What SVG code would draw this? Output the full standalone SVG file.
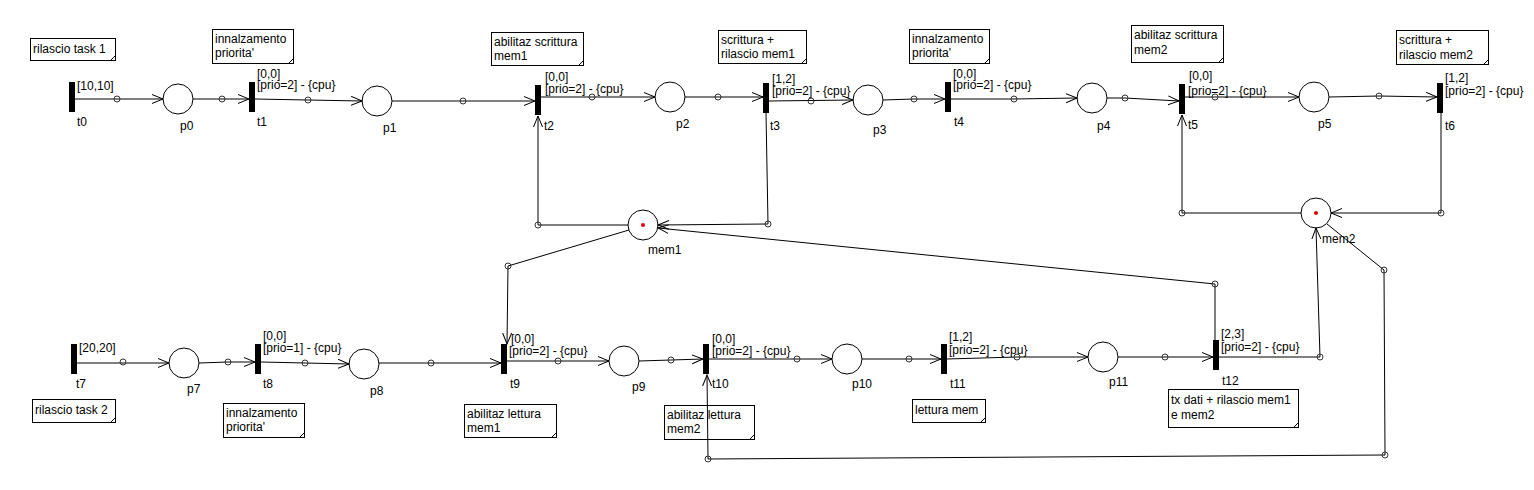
<svg xmlns="http://www.w3.org/2000/svg" width="1534" height="490" viewBox="0 0 1534 490">
<style>
text{font-family:"Liberation Sans",Arial,sans-serif;font-size:12px;fill:#000}
.pl{fill:#fff;stroke:#000;stroke-width:1}
.tr{fill:#000}
.tok{fill:#e00000}
.note{fill:#fff;stroke:#000;stroke-width:1}
.fold{fill:none;stroke:#000;stroke-width:1}
.arc{fill:none;stroke:#000;stroke-width:1;marker-end:url(#ah)}
.bp{fill:none;stroke:#333;stroke-width:1}
</style>
<defs>
<marker id="ah" markerUnits="userSpaceOnUse" markerWidth="14" markerHeight="12" refX="11" refY="5" orient="auto">
<path d="M0,0.5 L11,5 L0,9.5" fill="none" stroke="#000" stroke-width="1"/>
</marker>
</defs>
<rect width="1534" height="490" fill="#fff"/>

<!-- notes -->
<g id="note1"><rect class="note" x="30.5" y="38.5" width="85" height="22"/><path class="fold" d="M110.5,60.5 L115.5,55.5"/><text x="33" y="53">rilascio task 1</text></g>
<g id="note2"><rect class="note" x="212.5" y="29.5" width="81" height="34"/><path class="fold" d="M288.5,63.5 L293.5,58.5"/><text x="215" y="43">innalzamento</text><text x="215" y="57">priorita'</text></g>
<g id="note3"><rect class="note" x="491.5" y="32.5" width="92" height="33"/><path class="fold" d="M578.5,65.5 L583.5,60.5"/><text x="494" y="46">abilitaz scrittura</text><text x="494" y="60">mem1</text></g>
<g id="note4"><rect class="note" x="718.5" y="30.5" width="88" height="33"/><path class="fold" d="M801.5,63.5 L806.5,58.5"/><text x="721" y="44">scrittura +</text><text x="721" y="58">rilascio mem1</text></g>
<g id="note5"><rect class="note" x="909.5" y="29.5" width="80" height="34"/><path class="fold" d="M984.5,63.5 L989.5,58.5"/><text x="912" y="43">innalzamento</text><text x="912" y="57">priorita'</text></g>
<g id="note6"><rect class="note" x="1131.5" y="25.5" width="92" height="37"/><path class="fold" d="M1218.5,62.5 L1223.5,57.5"/><text x="1134" y="39">abilitaz scrittura</text><text x="1134" y="54">mem2</text></g>
<g id="note7"><rect class="note" x="1396.5" y="30.5" width="92" height="34"/><path class="fold" d="M1483.5,64.5 L1488.5,59.5"/><text x="1399" y="44">scrittura +</text><text x="1399" y="59">rilascio mem2</text></g>
<g id="note8"><rect class="note" x="32.5" y="399.5" width="83" height="23"/><path class="fold" d="M110.5,422.5 L115.5,417.5"/><text x="35" y="414">rilascio task 2</text></g>
<g id="note9"><rect class="note" x="223.5" y="403.5" width="81" height="34"/><path class="fold" d="M299.5,437.5 L304.5,432.5"/><text x="226" y="417">innalzamento</text><text x="226" y="431">priorita'</text></g>
<g id="note10"><rect class="note" x="464.5" y="404.5" width="92" height="33"/><path class="fold" d="M551.5,437.5 L556.5,432.5"/><text x="467" y="418">abilitaz lettura</text><text x="467" y="432">mem1</text></g>
<g id="note11"><rect class="note" x="664.5" y="405.5" width="90" height="34"/><path class="fold" d="M749.5,439.5 L754.5,434.5"/><text x="667" y="419">abilitaz lettura</text><text x="667" y="433">mem2</text></g>
<g id="note12"><rect class="note" x="912.5" y="399.5" width="73" height="23"/><path class="fold" d="M980.5,422.5 L985.5,417.5"/><text x="915" y="414">lettura mem</text></g>
<g id="note13"><rect class="note" x="1168.5" y="389.5" width="130" height="38"/><path class="fold" d="M1293.5,427.5 L1298.5,422.5"/><text x="1171" y="404">tx dati + rilascio mem1</text><text x="1171" y="419">e mem2</text></g>

<!-- transitions -->
<g id="t0"><rect class="tr" x="69" y="82" width="6" height="30"/><text x="77" y="90">[10,10]</text><text x="77" y="126">t0</text></g>
<g id="t1"><rect class="tr" x="249" y="82" width="6" height="30"/><text x="257" y="78">[0,0]</text><text x="257" y="89">[prio=2] - {cpu}</text><text x="257" y="126">t1</text></g>
<g id="t2"><rect class="tr" x="535" y="85" width="6" height="30"/><text x="545" y="81">[0,0]</text><text x="545" y="93">[prio=2] - {cpu}</text><text x="544" y="130">t2</text></g>
<g id="t3"><rect class="tr" x="763" y="83" width="6" height="30"/><text x="772" y="83">[1,2]</text><text x="772" y="95">[prio=2] - {cpu}</text><text x="770" y="130">t3</text></g>
<g id="t4"><rect class="tr" x="945" y="82" width="6" height="30"/><text x="953" y="78">[0,0]</text><text x="953" y="89">[prio=2] - {cpu}</text><text x="954" y="126">t4</text></g>
<g id="t5"><rect class="tr" x="1179" y="84" width="6" height="30"/><text x="1189" y="80">[0,0]</text><text x="1188" y="95">[prio=2] - {cpu}</text><text x="1188" y="129">t5</text></g>
<g id="t6"><rect class="tr" x="1437" y="83" width="6" height="30"/><text x="1445" y="82">[1,2]</text><text x="1445" y="95">[prio=2] - {cpu}</text><text x="1445" y="130">t6</text></g>
<g id="t7"><rect class="tr" x="71" y="344" width="6" height="30"/><text x="79" y="352">[20,20]</text><text x="76" y="388">t7</text></g>
<g id="t8"><rect class="tr" x="255" y="344" width="6" height="30"/><text x="263" y="340">[0,0]</text><text x="263" y="352">[prio=1] - {cpu}</text><text x="263" y="388">t8</text></g>
<g id="t9"><rect class="tr" x="501" y="344" width="6" height="30"/><text x="511" y="343">[0,0]</text><text x="509" y="355">[prio=2] - {cpu}</text><text x="510" y="388">t9</text></g>
<g id="t10"><rect class="tr" x="703" y="344" width="6" height="30"/><text x="712" y="343">[0,0]</text><text x="712" y="355">[prio=2] - {cpu}</text><text x="712" y="388">t10</text></g>
<g id="t11"><rect class="tr" x="941" y="344" width="6" height="30"/><text x="949" y="341">[1,2]</text><text x="949" y="354">[prio=2] - {cpu}</text><text x="950" y="388">t11</text></g>
<g id="t12"><rect class="tr" x="1213" y="340" width="6" height="30"/><text x="1221" y="338">[2,3]</text><text x="1221" y="351">[prio=2] - {cpu}</text><text x="1222" y="385">t12</text></g>

<!-- places -->
<g id="p0"><circle class="pl" cx="178" cy="99" r="15"/><text x="180" y="130">p0</text></g>
<g id="p1"><circle class="pl" cx="377" cy="101" r="15"/><text x="383" y="132">p1</text></g>
<g id="p2"><circle class="pl" cx="670" cy="97" r="15"/><text x="676" y="128">p2</text></g>
<g id="p3"><circle class="pl" cx="868" cy="100" r="15"/><text x="873" y="134">p3</text></g>
<g id="p4"><circle class="pl" cx="1092" cy="98" r="15"/><text x="1097" y="130">p4</text></g>
<g id="p5"><circle class="pl" cx="1314" cy="97" r="15"/><text x="1318" y="128">p5</text></g>
<g id="mem1"><circle class="pl" cx="643" cy="225" r="15"/><circle class="tok" cx="643" cy="225" r="2"/><text x="648" y="254">mem1</text></g>
<g id="mem2"><circle class="pl" cx="1316" cy="213" r="15"/><circle class="tok" cx="1316" cy="213" r="2"/><text x="1322" y="243">mem2</text></g>
<g id="p7"><circle class="pl" cx="184" cy="363" r="15"/><text x="187" y="393">p7</text></g>
<g id="p8"><circle class="pl" cx="364" cy="364" r="15"/><text x="370" y="395">p8</text></g>
<g id="p9"><circle class="pl" cx="624" cy="361" r="15"/><text x="632" y="391">p9</text></g>
<g id="p10"><circle class="pl" cx="847" cy="359" r="15"/><text x="852" y="388">p10</text></g>
<g id="p11"><circle class="pl" cx="1103" cy="357" r="15"/><text x="1109" y="386">p11</text></g>

<!-- connectors -->
<g id="connectors">
<polyline class="arc" points="75,99 163,99"/>
<polyline class="arc" points="193,99 249,99"/>
<polyline class="arc" points="255,99 308,100 362,101"/>
<polyline class="arc" points="392,101 535,101"/>
<polyline class="arc" points="541,97 655,97"/>
<polyline class="arc" points="685,97 763,97"/>
<polyline class="arc" points="769,101 853,100"/>
<polyline class="arc" points="883,100 914,99 945,99"/>
<polyline class="arc" points="951,99 1014,99 1077,98"/>
<polyline class="arc" points="1107,98 1125,98 1179,101"/>
<polyline class="arc" points="1185,97 1299,97"/>
<polyline class="arc" points="1329,97 1379,96 1437,97"/>
<polyline class="arc" points="628,225 538,225 538,116"/>
<polyline class="arc" points="766,113 768,224 658,225"/>
<polyline class="arc" points="629,230 508,266 507,344"/>
<polyline class="arc" points="1215,340 1215,284 658,228"/>
<polyline class="arc" points="1301,213 1182,213 1182,115"/>
<polyline class="arc" points="1441,113 1441,213 1331,213"/>
<polyline class="arc" points="1219,357 1320,357 1316,228"/>
<polyline class="arc" points="1327,224 1384,270 1385,455 708,459 707,375"/>
<polyline class="arc" points="77,363 169,363"/>
<polyline class="arc" points="199,363 228,362 255,362"/>
<polyline class="arc" points="261,362 305,363 349,364"/>
<polyline class="arc" points="379,363 501,363"/>
<polyline class="arc" points="507,361 609,361"/>
<polyline class="arc" points="639,361 671,360 703,359"/>
<polyline class="arc" points="709,359 832,359"/>
<polyline class="arc" points="862,359 941,359"/>
<polyline class="arc" points="947,359 1017,357 1088,357"/>
<polyline class="arc" points="1118,357 1213,357"/>
<circle class="bp" cx="117" cy="99" r="3"/>
<circle class="bp" cx="222" cy="99" r="3"/>
<circle class="bp" cx="308" cy="100" r="3"/>
<circle class="bp" cx="463" cy="101" r="3"/>
<circle class="bp" cx="592" cy="97" r="3"/>
<circle class="bp" cx="718" cy="97" r="3"/>
<circle class="bp" cx="811" cy="101" r="3"/>
<circle class="bp" cx="914" cy="99" r="3"/>
<circle class="bp" cx="1014" cy="99" r="3"/>
<circle class="bp" cx="1125" cy="98" r="3"/>
<circle class="bp" cx="1215" cy="97" r="3"/>
<circle class="bp" cx="1379" cy="96" r="3"/>
<circle class="bp" cx="538" cy="225" r="3"/>
<circle class="bp" cx="768" cy="224" r="3"/>
<circle class="bp" cx="508" cy="266" r="3"/>
<circle class="bp" cx="1215" cy="284" r="3"/>
<circle class="bp" cx="1182" cy="213" r="3"/>
<circle class="bp" cx="1441" cy="213" r="3"/>
<circle class="bp" cx="1320" cy="357" r="3"/>
<circle class="bp" cx="1384" cy="270" r="3"/>
<circle class="bp" cx="1385" cy="455" r="3"/>
<circle class="bp" cx="708" cy="459" r="3"/>
<circle class="bp" cx="123" cy="362" r="3"/>
<circle class="bp" cx="228" cy="362" r="3"/>
<circle class="bp" cx="305" cy="363" r="3"/>
<circle class="bp" cx="431" cy="363" r="3"/>
<circle class="bp" cx="558" cy="361" r="3"/>
<circle class="bp" cx="671" cy="360" r="3"/>
<circle class="bp" cx="797" cy="359" r="3"/>
<circle class="bp" cx="909" cy="359" r="3"/>
<circle class="bp" cx="1017" cy="357" r="3"/>
<circle class="bp" cx="1165" cy="357" r="3"/>
</g>
</svg>
